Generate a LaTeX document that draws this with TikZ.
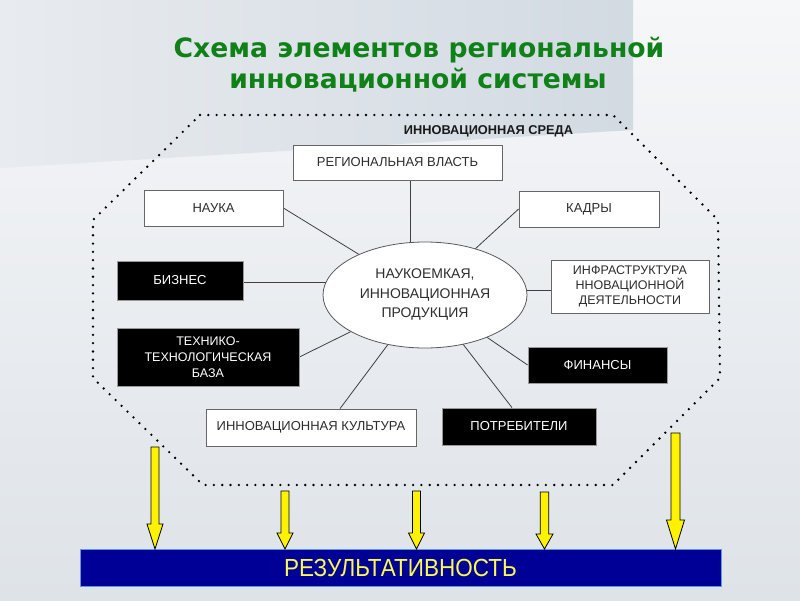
\documentclass[tikz,border=0pt]{standalone}
\usepackage{fontspec}
\setmainfont{Liberation Sans}
\newfontfamily\titlefont{DejaVu Sans}
\usetikzlibrary{shapes.geometric}
\pgfdeclarelayer{bg}
\pgfdeclarelayer{lines}
\pgfsetlayers{bg,lines,main}
\definecolor{titlegreen}{RGB}{16,128,24}
\definecolor{barblue}{RGB}{0,0,150}
\definecolor{baredge}{RGB}{100,150,220}
\definecolor{txtgray}{RGB}{45,45,45}
\definecolor{restext}{RGB}{250,250,80}
\definecolor{bgtop}{RGB}{246,247,249}
\definecolor{bgbot}{RGB}{222,227,232}
\definecolor{blkl}{RGB}{232,235,239}
\definecolor{blkr}{RGB}{210,218,226}
\tikzset{
  boxtext/.style={font=\fontsize{13}{15.5}\selectfont, align=center, inner sep=0pt},
  wbox/.style={boxtext, draw=black!60, fill=white, line width=0.8pt, text=txtgray},
  bbox/.style={boxtext, draw=black!40, fill=black, line width=0.8pt, text=white},
  link/.style={draw=black!75, line width=0.8pt},
  dotline/.style={draw=black, line width=2.6pt, line cap=round, dash pattern=on 0pt off 8.3pt},
  yarrowshape/.style={draw=black, fill=yellow, line width=0.8pt, line join=miter}
}
\newcommand{\yarr}[6]{\draw[yarrowshape] (#1-#3,#2) -- (#1+#3,#2) -- (#1+#3,#5-#6) -- (#1+#4,#5-#6) -- (#1,#5) -- (#1-#4,#5-#6) -- (#1-#3,#5-#6) -- cycle;}
\begin{document}
\begin{tikzpicture}[x=1pt,y=-1pt]
\useasboundingbox (0,0) rectangle (800,600);
\begin{pgfonlayer}{bg}
  \shade[top color=bgtop, bottom color=bgbot] (0,0) rectangle (800,600);
  \shade[left color=blkl, right color=blkr] (0,0) -- (633,0) -- (633,130) -- (0,168) -- cycle;
\end{pgfonlayer}

% title
\node[font=\titlefont\bfseries\fontsize{26.6}{30}\selectfont, text=titlegreen, anchor=base] (t1) at (419,57) {Схема элементов региональной};
\node[font=\titlefont\bfseries\fontsize{26.6}{30}\selectfont, text=titlegreen, anchor=base] (t2) at (418,88) {инновационной системы};

% environment
\draw[dotline] (200,115) -- (613,115) -- (718,220) -- (720,378) -- (613,485) -- (203,485) -- (93,378) -- (93,220) -- cycle;
\node[font=\bfseries\fontsize{12.8}{14}\selectfont, text=black!90, anchor=base] (env) at (488.5,134) {ИННОВАЦИОННАЯ СРЕДА};

% center
\node[ellipse, draw=black!65, fill=white, line width=0.8pt, minimum width=204pt, minimum height=106pt, inner sep=0pt, align=center, text=txtgray, font=\fontsize{14}{19.5}\selectfont] (prod) at (425,295) {НАУКОЕМКАЯ,\\ИННОВАЦИОННАЯ\\ПРОДУКЦИЯ};

% boxes
\node[wbox, minimum width=209pt, minimum height=35pt] (vl) at (397.5,162.5) {РЕГИОНАЛЬНАЯ ВЛАСТЬ};
\node[wbox, minimum width=139pt, minimum height=36pt] (nauka) at (213.5,208) {НАУКА};
\node[wbox, minimum width=140pt, minimum height=36pt] (kadry) at (589,209) {КАДРЫ};
\node[bbox, minimum width=126pt, minimum height=39pt] (biz) at (180,280.5) {БИЗНЕС};
\node[wbox, minimum width=158pt, minimum height=53pt, font=\fontsize{12.5}{15.3}\selectfont] (infra) at (630,286.5) {ИНФРАСТРУКТУРА\\ННОВАЦИОННОЙ\\ДЕЯТЕЛЬНОСТИ};
\node[bbox, minimum width=182pt, minimum height=58pt, font=\fontsize{12.5}{15.8}\selectfont] (tech) at (208,357) {ТЕХНИКО-\\ТЕХНОЛОГИЧЕСКАЯ\\БАЗА};
\node[wbox, minimum width=210pt, minimum height=37pt] (kult) at (311,427.5) {ИННОВАЦИОННАЯ КУЛЬТУРА};
\node[bbox, minimum width=139pt, minimum height=36pt] (fin) at (597.5,365) {ФИНАНСЫ};
\node[bbox, minimum width=154pt, minimum height=37pt] (potr) at (519,426.5) {ПОТРЕБИТЕЛИ};

% connectors
\begin{pgfonlayer}{lines}
  \draw[link] ([xshift=12.5pt]vl.south) -- ([xshift=12.5pt]vl.south |- prod.center);
  \draw[link] (nauka.east) -- (prod.center);
  \draw[link] (kadry.west) -- (prod.center);
  \draw[link] ([yshift=-2pt]biz.east) -- ([yshift=-2pt]biz.east -| prod.center);
  \draw[link] ([yshift=-3.5pt]infra.west) -- ([yshift=-3.5pt]infra.west -| prod.center);
  \draw[link] (tech.east) -- (prod.center);
  \draw[link] ([xshift=29pt]kult.north) -- (prod.center);
  \draw[link] (fin.west) -- (prod.center);
  \draw[link] ([xshift=-7pt]potr.north) -- (prod.center);
\end{pgfonlayer}

% result bar
\node[draw=baredge, fill=barblue, line width=1pt, minimum width=641pt, minimum height=37pt, inner sep=0pt, text=restext, font=\fontsize{22.5}{25}\selectfont] (res) at (400.5,567.5) {\scalebox{1}[1.1]{РЕЗУЛЬТАТИВНОСТЬ}};

% arrows
\yarr{155}{447}{4}{8}{549}{25}
\yarr{285}{491}{4}{8}{549}{16}
\yarr{416.5}{491}{4}{8}{549}{16}
\yarr{544.5}{492}{4.2}{8.5}{549}{15}
\yarr{675.5}{433}{4.5}{9}{549}{29}
\end{tikzpicture}
\end{document}
